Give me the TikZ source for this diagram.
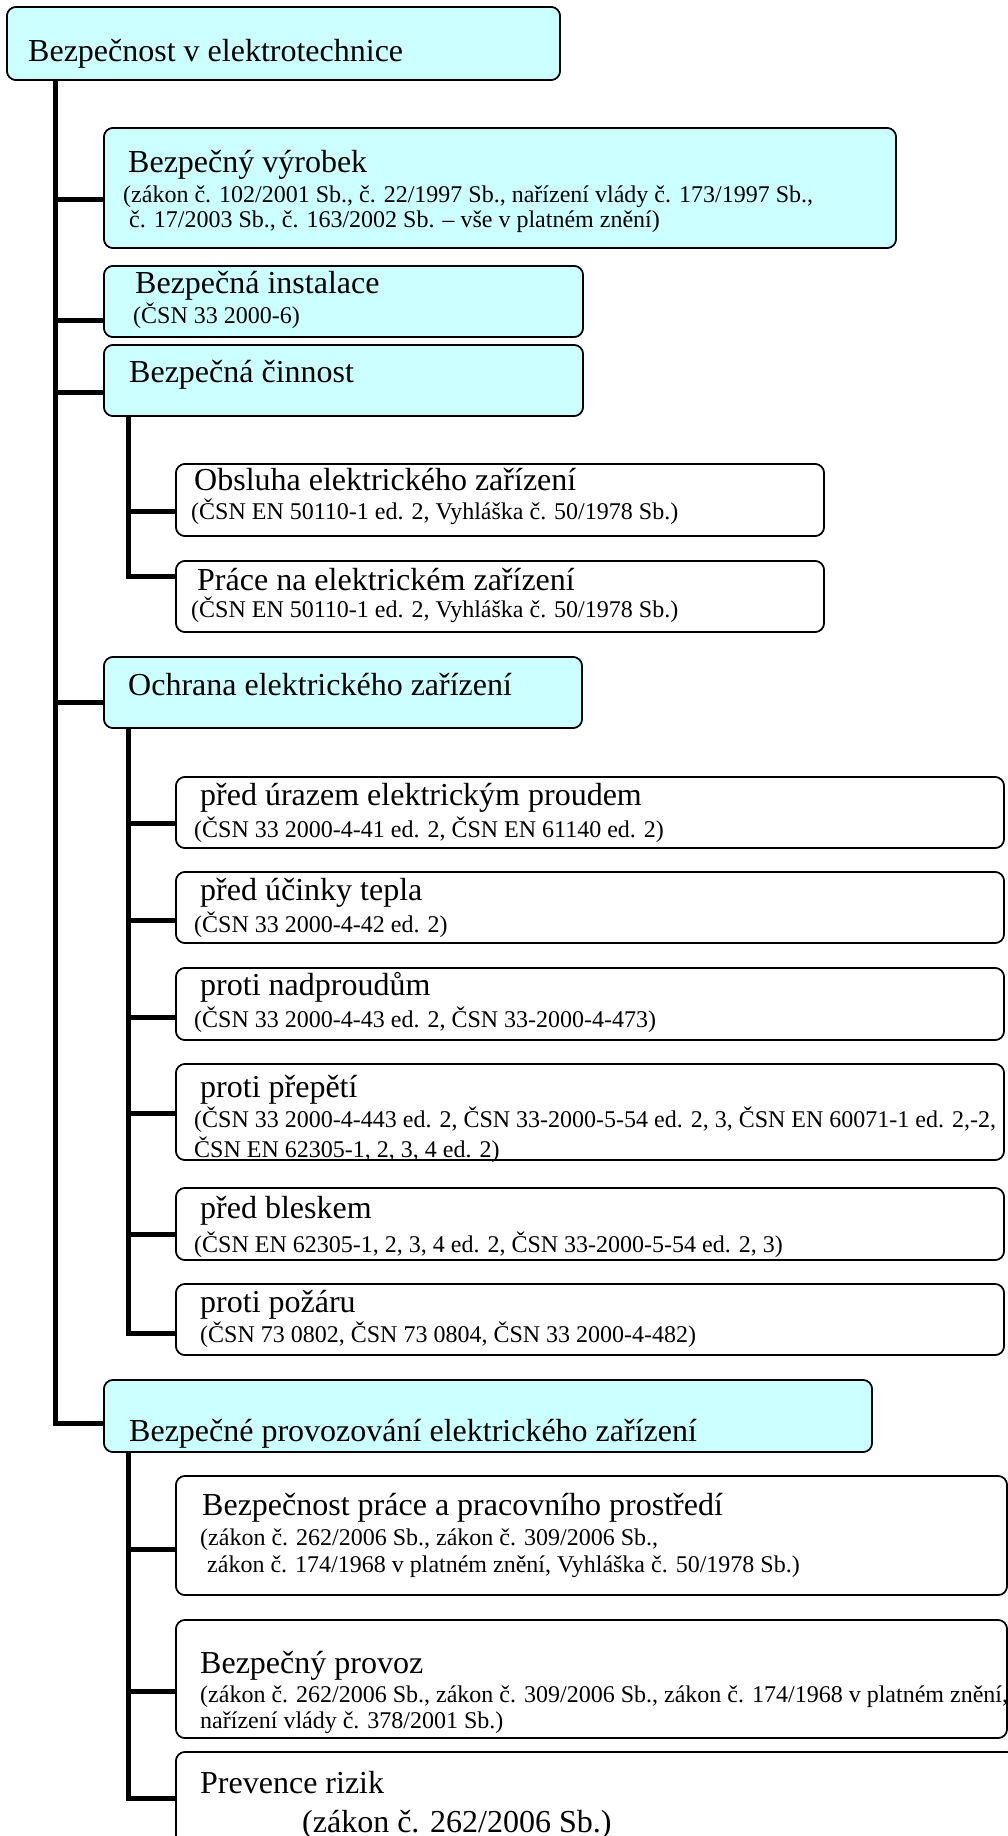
\documentclass[tikz,border=0pt]{standalone}
\usepackage{fontspec}
\setmainfont{Liberation Serif}
\definecolor{boxcyan}{HTML}{CCFFFF}
\tikzset{
  cbox/.style={draw=black, line width=1.6pt, rounded corners=9pt, fill=boxcyan, anchor=north west, inner sep=0pt, outer sep=0pt},
  wbox/.style={cbox, fill=white},
  conn/.style={line width=5pt, line join=miter},
  ttl/.style={anchor=base west, inner sep=0pt, font=\fontsize{32}{34}\selectfont},
  subtxt/.style={anchor=base west, inner sep=0pt, font=\fontsize{24}{25}\selectfont},
}
\newcommand{\bx}[6]{\node[#1, minimum width=#4pt-#2pt, minimum height=#5pt-#3pt] (#6) at (#2,#3) {};}
\begin{document}
\begin{tikzpicture}[x=1pt,y=-1pt]
\useasboundingbox (0,0) rectangle (1008,1836);
\clip (0,0) rectangle (1008,1836);
% trunk start coordinates
\coordinate (m0) at (55.5,80);
\coordinate (c0) at (128,416);
\coordinate (o0) at (128,728);
\coordinate (p0) at (128,1452);
% box frames (named, drawn below)
\begin{scope}[every node/.append style={draw=none, fill=none}]
\bx{cbox}{7}{7}{560}{80}{top}
\bx{cbox}{104}{128}{896}{248}{vyr}
\bx{cbox}{104}{266}{583}{337}{ins}
\bx{cbox}{104}{345}{583}{416}{cin}
\bx{wbox}{176}{464}{824}{536}{obs}
\bx{wbox}{176}{561}{824}{632}{pra}
\bx{cbox}{104}{657}{582}{728}{och}
\bx{wbox}{176}{777}{1004}{848}{ur}
\bx{wbox}{176}{872}{1004}{943}{tep}
\bx{wbox}{176}{968}{1004}{1040}{nad}
\bx{wbox}{176}{1064}{1004}{1160}{pre}
\bx{wbox}{176}{1188}{1004}{1260}{ble}
\bx{wbox}{176}{1284}{1004}{1355}{poz}
\bx{cbox}{104}{1380}{872}{1452}{prov}
\bx{wbox}{176}{1476}{1007}{1595}{bp}
\bx{wbox}{176}{1620}{1007}{1738}{bprov}
\bx{wbox}{176}{1752}{1016}{1845}{prev}
\end{scope}
% connectors
\draw[conn] (m0) |- ([yshift=-71pt]vyr.north west);
\draw[conn] (m0) |- ([yshift=-54pt]ins.north west);
\draw[conn] (m0) |- ([yshift=-47pt]cin.north west);
\draw[conn] (m0) |- ([yshift=-45pt]och.north west);
\draw[conn] (m0) |- ([yshift=-43pt]prov.north west);
\draw[conn] (c0) |- ([yshift=-47pt]obs.north west);
\draw[conn] (c0) |- ([yshift=-15pt]pra.north west);
\draw[conn] (o0) |- ([yshift=-46pt]ur.north west);
\draw[conn] (o0) |- ([yshift=-48pt]tep.north west);
\draw[conn] (o0) |- ([yshift=-49pt]nad.north west);
\draw[conn] (o0) |- ([yshift=-49pt]pre.north west);
\draw[conn] (o0) |- ([yshift=-46pt]ble.north west);
\draw[conn] (o0) |- ([yshift=-49pt]poz.north west);
\draw[conn] (p0) |- ([yshift=-73pt]bp.north west);
\draw[conn] (p0) |- ([yshift=-71pt]bprov.north west);
\draw[conn] (p0) |- ([yshift=-46pt]prev.north west);
% visible boxes
\foreach \n in {top,vyr,ins,cin,och,prov} {
  \draw[line width=1.6pt, rounded corners=9pt, fill=boxcyan] (\n.north west) rectangle (\n.south east);
}
\foreach \n in {obs,pra,ur,tep,nad,pre,ble,poz,bp,bprov,prev} {
  \draw[line width=1.6pt, rounded corners=9pt, fill=white] (\n.north west) rectangle (\n.south east);
}
% texts
\node[ttl] (t1) at (28,62) {Bezpečnost v elektrotechnice};
\node[ttl] (t2) at (128,172) {Bezpečný výrobek};
\node[subtxt] (t2a) at (123,202) {(zákon č. 102/2001 Sb., č. 22/1997 Sb., nařízení vlády č. 173/1997 Sb.,};
\node[subtxt] (t2b) at (129,227) {č. 17/2003 Sb., č. 163/2002 Sb. – vše v platném znění)};
\node[ttl] (t3) at (135,293) {Bezpečná instalace};
\node[subtxt] (t3a) at (133,323) {(ČSN 33 2000-6)};
\node[ttl] (t4) at (129,382) {Bezpečná činnost};
\node[ttl] (t5) at (194,490) {Obsluha elektrického zařízení};
\node[subtxt] (t5a) at (191,519) {(ČSN EN 50110-1 ed. 2, Vyhláška č. 50/1978 Sb.)};
\node[ttl] (t6) at (197,590) {Práce na elektrickém zařízení};
\node[subtxt] (t6a) at (191,617) {(ČSN EN 50110-1 ed. 2, Vyhláška č. 50/1978 Sb.)};
\node[ttl] (t7) at (128,695) {Ochrana elektrického zařízení};
\node[ttl] (t8) at (200,805) {před úrazem elektrickým proudem};
\node[subtxt] (t8a) at (194,837) {(ČSN 33 2000-4-41 ed. 2, ČSN EN 61140 ed. 2)};
\node[ttl] (t9) at (200,900) {před účinky tepla};
\node[subtxt] (t9a) at (194,932) {(ČSN 33 2000-4-42 ed. 2)};
\node[ttl] (t10) at (200,995) {proti nadproudům};
\node[subtxt] (t10a) at (194,1027) {(ČSN 33 2000-4-43 ed. 2, ČSN 33-2000-4-473)};
\node[ttl] (t11) at (200,1097) {proti přepětí};
\node[subtxt] (t11a) at (194,1127) {(ČSN 33 2000-4-443 ed. 2, ČSN 33-2000-5-54 ed. 2, 3, ČSN EN 60071-1 ed. 2,-2,};
\node[subtxt] (t11b) at (194,1157) {ČSN EN 62305-1, 2, 3, 4 ed. 2)};
\node[ttl] (t12) at (200,1218) {před bleskem};
\node[subtxt] (t12a) at (194,1252) {(ČSN EN 62305-1, 2, 3, 4 ed. 2, ČSN 33-2000-5-54 ed. 2, 3)};
\node[ttl] (t13) at (200,1312) {proti požáru};
\node[subtxt] (t13a) at (200,1342) {(ČSN 73 0802, ČSN 73 0804, ČSN 33 2000-4-482)};
\node[ttl] (t14) at (129,1441) {Bezpečné provozování elektrického zařízení};
\node[ttl] (t15) at (202,1515) {Bezpečnost práce a pracovního prostředí};
\node[subtxt] (t15a) at (200,1545) {(zákon č. 262/2006 Sb., zákon č. 309/2006 Sb.,};
\node[subtxt] (t15b) at (207,1572) {zákon č. 174/1968 v platném znění, Vyhláška č. 50/1978 Sb.)};
\node[ttl] (t16) at (200,1673) {Bezpečný provoz};
\node[subtxt] (t16a) at (200,1702) {(zákon č. 262/2006 Sb., zákon č. 309/2006 Sb., zákon č. 174/1968 v platném znění,};
\node[subtxt] (t16b) at (200,1728) {nařízení vlády č. 378/2001 Sb.)};
\node[ttl] (t17) at (200,1793) {Prevence rizik};
\node[ttl] (t17a) at (302,1832) {(zákon č. 262/2006 Sb.)};
\end{tikzpicture}
\end{document}
